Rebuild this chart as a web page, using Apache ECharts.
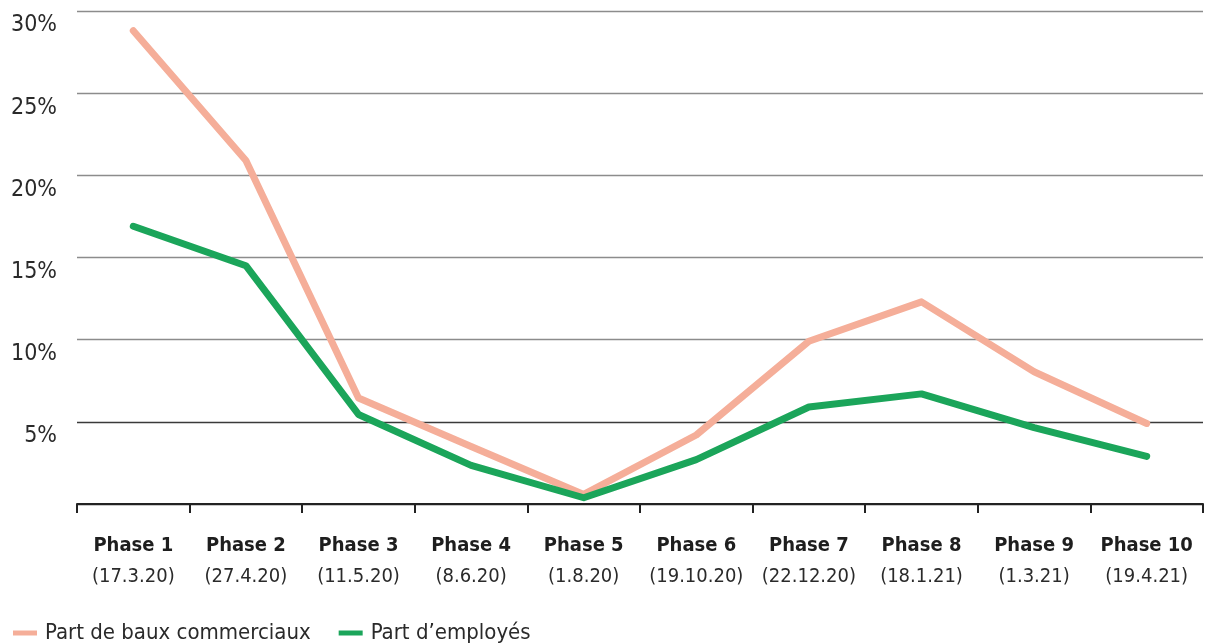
<!DOCTYPE html>
<html>
<head>
<meta charset="utf-8">
<script src="https://cdn.jsdelivr.net/npm/echarts@6/dist/echarts.min.js"></script>
<style>
  html, body { margin: 0; padding: 0; background: #fff; }
  #chart { width: 1207px; height: 644px; }
</style>
</head>
<body>
<div id="chart"></div>
<script>
// Phases of the measures and their start dates
const phases = ['Phase 1', 'Phase 2', 'Phase 3', 'Phase 4', 'Phase 5', 'Phase 6', 'Phase 7', 'Phase 8', 'Phase 9', 'Phase 10'];
const dates = ['17.3.20', '27.4.20', '11.5.20', '8.6.20', '1.8.20', '19.10.20', '22.12.20', '18.1.21', '1.3.21', '19.4.21'];

// Shares in percent
const bauxCommerciaux = [28.8, 20.9, 6.45, 3.5, 0.58, 4.2, 9.9, 12.3, 8.05, 4.9];
const employes = [16.9, 14.5, 5.45, 2.35, 0.38, 2.7, 5.9, 6.7, 4.65, 2.9];

const seriesNames = ['Part de baux commerciaux', 'Part d\u2019employés'];
const yTicks = [0, 5, 10, 15, 20, 25, 30];

const FONT = '"DejaVu Sans Condensed", "Liberation Sans Narrow", sans-serif';
const PINK = '#f5ae99';
const GREEN = '#1ba55a';

const chart = echarts.init(document.getElementById('chart'));

chart.setOption({
  animation: false,
  textStyle: { fontFamily: FONT },
  grid: { left: 77, right: 4, top: 11, bottom: 140, containLabel: false },
  legend: {
    left: 8,
    top: 617,
    icon: 'rect',
    itemWidth: 24,
    itemHeight: 5,
    itemGap: 28,
    data: seriesNames,
    textStyle: { fontFamily: FONT, fontSize: 22, color: '#2a2a2a', padding: [0, 0, 0, 3] }
  },
  xAxis: {
    type: 'category',
    data: phases,
    boundaryGap: true,
    axisLine: { lineStyle: { color: '#222', width: 2 } },
    axisTick: { show: true, length: 9, lineStyle: { color: '#222', width: 2 } },
    axisLabel: {
      interval: 0,
      margin: 26,
      formatter: function (v, i) {
        return '{b|' + v + '}\n{d|(' + dates[i] + ')}';
      },
      rich: {
        b: { fontFamily: FONT, fontWeight: 'bold', fontSize: 20, color: '#1e1e1e', lineHeight: 31 },
        d: { fontFamily: FONT, fontSize: 20, color: '#2a2a2a', lineHeight: 31 }
      }
    }
  },
  yAxis: {
    type: 'value',
    min: yTicks[0],
    max: yTicks[yTicks.length - 1],
    interval: 5,
    axisLine: { show: false },
    axisTick: { show: false },
    splitLine: {
      lineStyle: {
        color: ['#222', '#3a3a3a', '#8c8c8c', '#8c8c8c', '#8c8c8c', '#8c8c8c', '#8c8c8c'],
        width: 1.3
      }
    },
    axisLabel: {
      margin: 20,
      verticalAlign: 'top',
      padding: [3, 0, 0, 0],
      fontFamily: FONT,
      fontSize: 23,
      color: '#2a2a2a',
      formatter: function (v) { return v === 0 ? '' : v + '%'; }
    }
  },
  series: [
    {
      name: seriesNames[0],
      type: 'line',
      data: bauxCommerciaux,
      symbol: 'none',
      lineStyle: { color: PINK, width: 7, cap: 'round', join: 'round' },
      itemStyle: { color: PINK }
    },
    {
      name: seriesNames[1],
      type: 'line',
      data: employes,
      symbol: 'none',
      lineStyle: { color: GREEN, width: 7, cap: 'round', join: 'round' },
      itemStyle: { color: GREEN }
    }
  ]
});
</script>
</body>
</html>
